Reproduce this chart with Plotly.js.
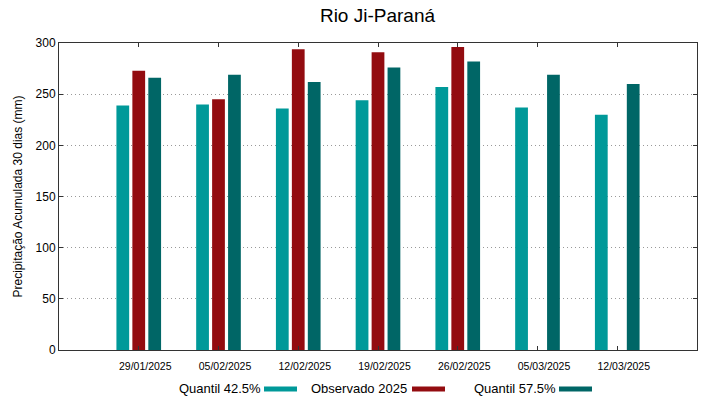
<!DOCTYPE html>
<html>
<head>
<meta charset="utf-8">
<script src="https://cdn.plot.ly/plotly-3.0.1.min.js"></script>
<style>html,body{margin:0;padding:0;background:#fff;}#chart{width:719px;height:399px;}</style>
</head>
<body>
<div id="chart"></div>
<script>
const categories = ["29/01/2025","05/02/2025","12/02/2025","19/02/2025","26/02/2025","05/03/2025","12/03/2025"];
const quantil425 = [239, 240, 236, 244, 257, 237, 230];
const observado2025 = [273, 245, 294, 291, 296, null, null];
const quantil575 = [266, 269, 262, 276, 282, 269, 260];
const seriesNames = ["Quantil 42.5%", "Observado 2025", "Quantil 57.5%"];
const colors = ["#009999", "#930c10", "#006666"];

const xs = categories.map((c, i) => i);
const offsets = [-0.28, -0.08, 0.12];
const allSeries = [quantil425, observado2025, quantil575];

const traces = allSeries.map((vals, k) => ({
  type: 'bar',
  x: xs,
  y: vals,
  name: seriesNames[k],
  width: 0.16,
  offset: offsets[k],
  marker: {color: colors[k], line: {color: colors[k], width: 0}},
  showlegend: false
}));
// invisible trace carrying the shifted tick-label axis
traces.push({type: 'scatter', x: xs, y: xs.map(() => null), xaxis: 'x2', yaxis: 'y', showlegend: false, hoverinfo: 'skip'});

const font = "Liberation Sans, Arial, sans-serif";
const L = 59, R = 697, T = 43, B = 350;
const W = R - L, H = B - T;
const shapes = [];
const annotations = [];
// legend (gnuplot style: text then swatch)
const legendPos = [{tx:177, sw:264}, {tx:309, sw:412}, {tx:472, sw:559}];
legendPos.forEach((p, k) => {
  annotations.push({
    xref:'paper', yref:'paper',
    x: (p.tx - L) / W, y: -(388.5 - B) / H,
    xanchor:'left', yanchor:'middle', showarrow:false,
    text: seriesNames[k], font:{family:font, size:13, color:'#000'}
  });
  shapes.push({
    type:'rect', xref:'paper', yref:'paper',
    x0:(p.sw - L)/W, x1:(p.sw + 33 - L)/W,
    y0:-(391.5 - B)/H, y1:-(386.5 - B)/H,
    fillcolor: colors[k], line:{width:0}
  });
});

const shift = 6.5 / (W / 8);
const layout = {
  width: 719, height: 399,
  margin: {l: L, r: 719 - R, t: T, b: 399 - B},
  paper_bgcolor: '#fff', plot_bgcolor: '#fff',
  title: {text: 'Rio Ji-Paraná', font: {family: font, size: 19, color: '#000'}, x: 0.525, xanchor: 'center', y: 0.962, yanchor: 'middle'},
  font: {family: font, color: '#000'},
  xaxis: {
    range: [-1, 7],
    tickmode: 'array', tickvals: xs, ticktext: xs.map(() => ''),
    ticks: 'inside', ticklen: 4, tickcolor: '#333',
    showline: true, linecolor: '#333', linewidth: 1, mirror: 'ticks',
    showgrid: false, zeroline: false
  },
  xaxis2: {
    overlaying: 'x', anchor: 'y', side: 'bottom',
    range: [-1 - shift, 7 - shift],
    tickmode: 'array', tickvals: xs, ticktext: categories,
    tickfont: {family: font, size: 10.5, color: '#000'},
    ticks: '', showline: false, showgrid: false, zeroline: false,
    ticklabelstandoff: 8
  },
  yaxis: {
    range: [0, 300],
    tickvals: [0, 50, 100, 150, 200, 250, 300],
    tickfont: {family: font, size: 12, color: '#000'},
    ticks: 'inside', ticklen: 4, tickcolor: '#333',
    showline: true, linecolor: '#333', linewidth: 1, mirror: 'ticks',
    showgrid: true, gridcolor: '#999999', griddash: '1px,3px', gridwidth: 1,
    zeroline: false,
    title: {text: 'Precipitação Acumulada 30 dias (mm)', font: {family: font, size: 12, color: '#000'}, standoff: 10}
  },
  showlegend: false,
  shapes: shapes,
  annotations: annotations
};

Plotly.newPlot('chart', traces, layout, {displayModeBar: false, staticPlot: true});
</script>
</body>
</html>
